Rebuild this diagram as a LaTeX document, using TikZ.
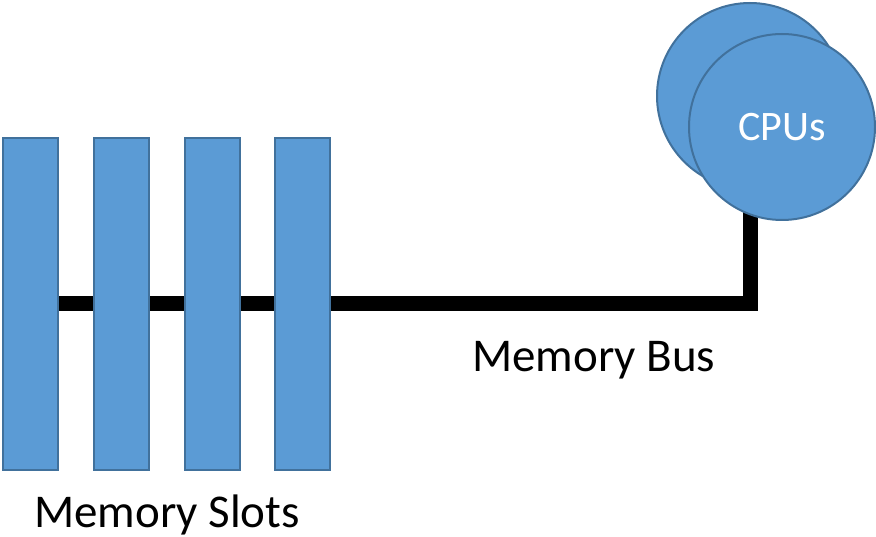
\documentclass[tikz,border=0pt]{standalone}
\usepackage{fontspec}
\setmainfont{Carlito}
\usetikzlibrary{backgrounds}
\definecolor{slotfill}{HTML}{5B9BD5}
\definecolor{slotline}{HTML}{41719C}
\begin{document}
\begin{tikzpicture}[x=1pt,y=-1pt,
  slotbox/.style={draw=slotline,fill=slotfill,line width=2pt,rectangle,minimum width=55pt,minimum height=332pt,inner sep=0pt},
  cpucircle/.style={draw=slotline,fill=slotfill,line width=2pt,circle,minimum size=186pt,inner sep=0pt},
  busline/.style={line width=15pt,black,line join=miter},
  lbl/.style={font=\fontsize{47}{50}\selectfont,inner sep=0pt,anchor=base west}]
\useasboundingbox (0,0) rectangle (876,537);
\coordinate (bend) at (750,304);
\node[cpucircle] (cpuback) at (750,96) {};
\node[cpucircle,font=\fontsize{42}{46}\selectfont,text=white] (cpu) at (782,127) {CPUs};
\node[slotbox] (s1) at (30.5,304) {};
\node[slotbox] (s2) at (121.5,304) {};
\node[slotbox] (s3) at (212,304) {};
\node[slotbox] (s4) at (302.5,304) {};
\begin{scope}[on background layer]
\draw[busline] (s1.center) -- (bend) -- (cpuback.center);
\end{scope}
\node[lbl] (busl) at (472,372) {Memory Bus};
\node[lbl] (slotl) at (34,527) {Memory Slots};
\end{tikzpicture}
\end{document}
